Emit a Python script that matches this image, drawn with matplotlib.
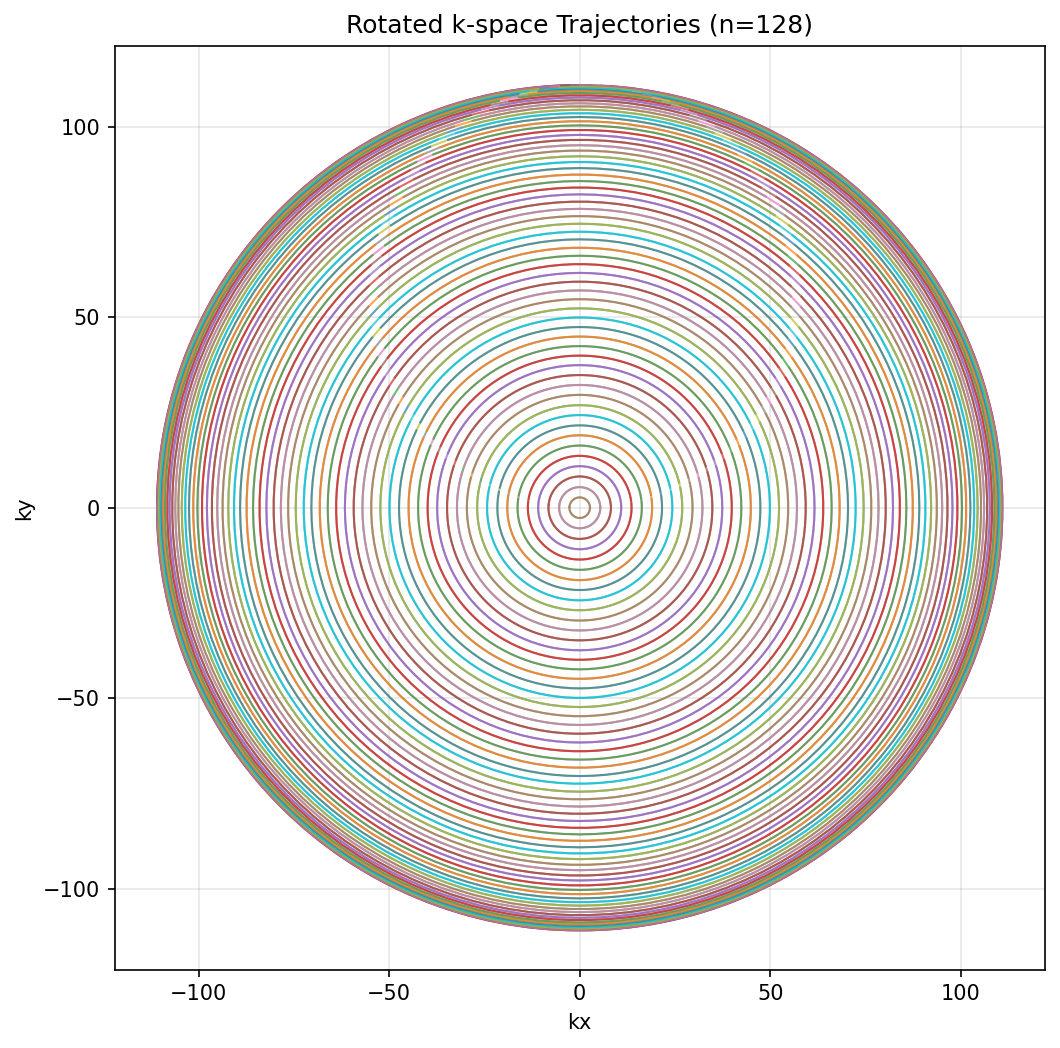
"""Plot a rotated k-space trajectory set as it looks when every sample is drawn
across all rotations (one circle per sample index)."""

import numpy as np
import matplotlib

matplotlib.use("Agg")
import matplotlib.pyplot as plt

N_SAMPLES = 128
N_ROTATIONS = 128

# radius of samples 0..64 of the base trajectory (samples 65..127 mirror these)
radius_half = [
    0.0, 2.7, 5.4, 8.2, 10.9, 13.6, 16.3, 19.0, 21.6, 24.3,
    26.9, 29.6, 32.2, 34.8, 37.4, 39.9, 42.4, 44.9, 47.4, 49.9,
    52.3, 54.7, 57.0, 59.3, 61.6, 63.9, 66.1, 68.2, 70.4, 72.4,
    74.5, 76.5, 78.4, 80.3, 82.2, 84.0, 85.7, 87.4, 89.1, 90.7,
    92.2, 93.7, 95.1, 96.5, 97.8, 99.1, 100.3, 101.4, 102.5, 103.5,
    104.4, 105.3, 106.1, 106.9, 107.6, 108.2, 108.8, 109.3, 109.7, 110.1,
    110.4, 110.6, 110.8, 110.9, 110.9,
]

# polar angle (deg) of samples 0..64 of the base trajectory
angle_half_deg = [
    0.0, 1.41, 2.81, 4.22, 5.63, 7.03, 8.44, 9.84, 11.25, 12.66,
    14.06, 15.47, 16.88, 18.28, 19.69, 21.09, 22.5, 23.91, 25.31, 26.72,
    28.13, 29.53, 30.94, 32.34, 33.75, 35.16, 36.56, 37.97, 39.38, 40.78,
    42.19, 43.59, 45.0, 46.41, 47.81, 49.22, 50.63, 52.03, 53.44, 54.84,
    56.25, 57.66, 59.06, 60.47, 61.88, 63.28, 64.69, 66.09, 67.5, 68.91,
    70.31, 71.72, 73.13, 74.53, 75.94, 77.34, 78.75, 80.16, 81.56, 82.97,
    84.38, 85.78, 87.19, 88.59, 90.0,
]


def base_trajectory():
    """Full 128-sample base trajectory in polar form (mirrored about ky)."""

    radius = radius_half + radius_half[63:0:-1]
    angle = angle_half_deg + [180.0 - a for a in angle_half_deg[63:0:-1]]
    return np.array(radius), np.deg2rad(angle)


def main() -> None:
    radius, angle = base_trajectory()
    rotations = 2 * np.pi * np.arange(N_ROTATIONS) / N_ROTATIONS

    # shape (rotations, samples): each column is one sample swept over rotations
    phase = rotations[:, None] + angle[None, :]
    kx = radius[None, :] * np.cos(phase)
    ky = radius[None, :] * np.sin(phase)

    fig = plt.figure(figsize=(1060 / 150, 1048 / 150), dpi=150)
    ax = fig.add_axes([114.7 / 1060, 78.3 / 1048, 930 / 1060, 924 / 1048])
    ax.plot(kx, ky, linewidth=1.0, alpha=0.7)
    ax.set_title(f"Rotated k-space Trajectories (n={N_SAMPLES})")
    ax.set_xlabel("kx")
    ax.set_ylabel("ky")
    ax.axis("equal")
    ax.grid(True, alpha=0.3)

    fig.savefig("out.png", dpi=150)


if __name__ == "__main__":
    main()
